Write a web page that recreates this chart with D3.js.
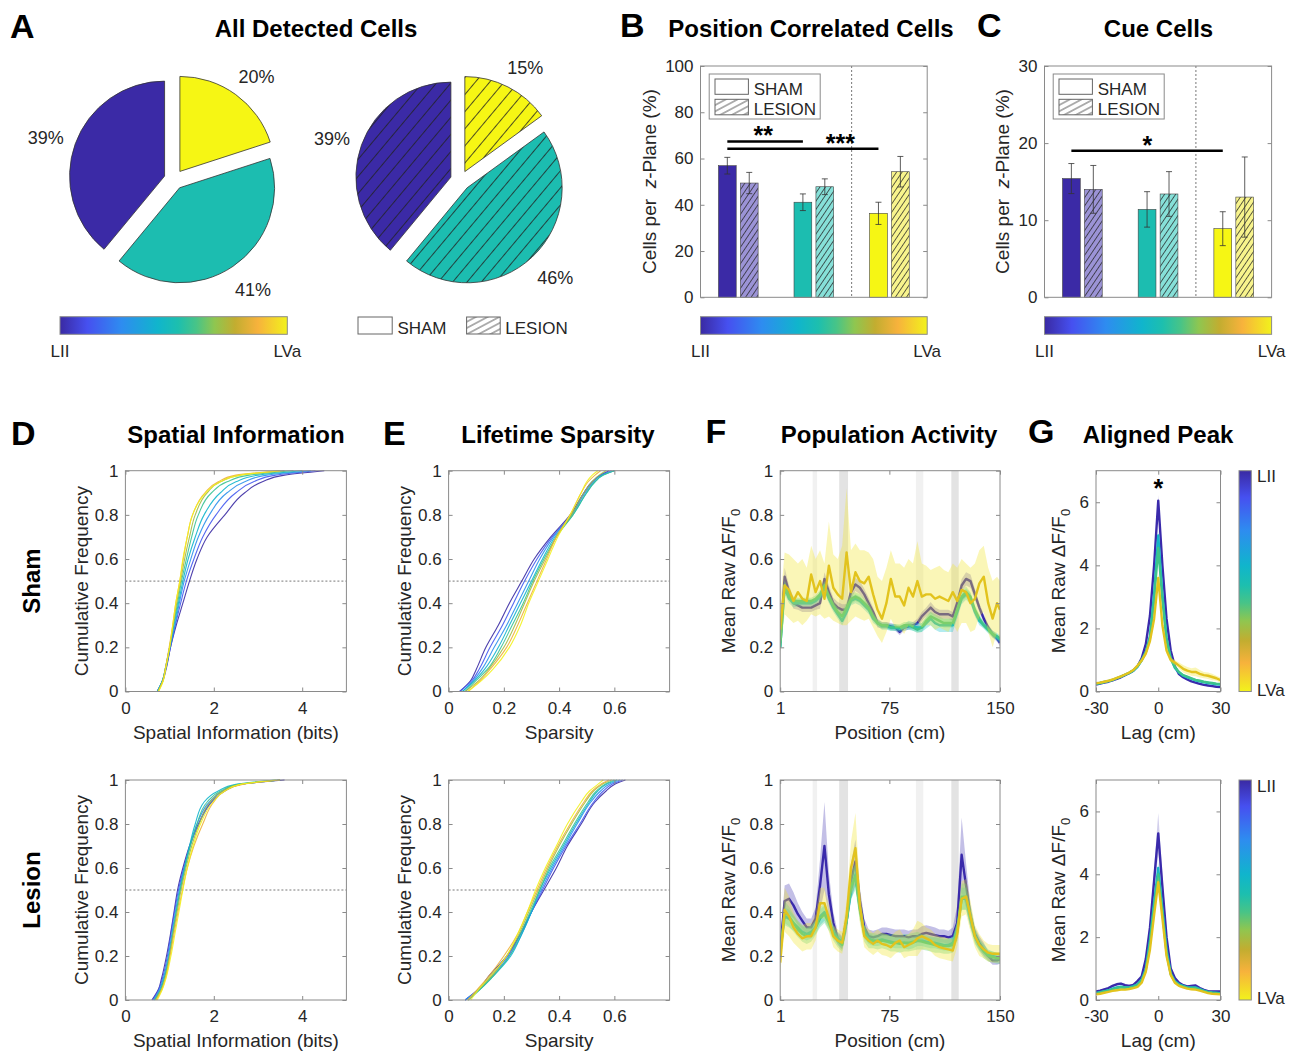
<!DOCTYPE html>
<html>
<head>
<meta charset="utf-8">
<script src="https://cdn.jsdelivr.net/npm/d3@7"></script>
<style>
  body { margin: 0; background: #fff; }
  svg text { font-family: "Liberation Sans", Arial, Helvetica, sans-serif; }
</style>
</head>
<body>
<svg id="fig" width="1297" height="1054"></svg>
<script>
// ---------------- data ----------------
// A: pie slices, clockwise from 12 o'clock: LVa, LIII, LII
const pieShamPct = [20, 41, 39];
const pieLesionPct = [15, 46, 39];

// B / C: bar groups (LII, LIII, LVa)
const barGroups = [1, 2, 3];
const bShamMean = [56.9, 41.1, 36.3];
const bShamErr = [3.6, 3.6, 4.8];
const bLesionMean = [49.4, 47.8, 54.3];
const bLesionErr = [4.6, 3.4, 6.6];
const bTicks = [0, 20, 40, 60, 80, 100];
const bSig = [
  { from: 1, to: 2, y: 67.4, label: "**", at: 1.33, dy: 2.7 },
  { from: 1, to: 3, y: 64.2, label: "***", at: 2.35, dy: 3.6 }
];
const cShamMean = [15.4, 11.4, 8.9];
const cShamErr = [1.95, 2.3, 2.2];
const cLesionMean = [14.0, 13.4, 13.0];
const cLesionErr = [3.1, 2.9, 5.2];
const cTicks = [0, 10, 20, 30];
const cSig = [{ from: 1, to: 3, y: 19.0, label: "*", at: 1.86, dy: 3 }];

// D / E: empirical CDFs given as x at fixed cumulative levels, LII -> LVa
const cdfLevels = [0, .05, .1, .2, .3, .4, .5, .6, .7, .8, .9, .95, .98, 1];
const dSham = [
  [.72, .85, .92, 1.02, 1.15, 1.30, 1.45, 1.62, 1.85, 2.25, 2.70, 3.10, 3.60, 4.50],
  [.72, .84, .91, 1.02, 1.13, 1.25, 1.38, 1.55, 1.75, 2.05, 2.50, 2.90, 3.40, 4.30],
  [.72, .84, .91, 1.01, 1.12, 1.22, 1.33, 1.48, 1.65, 1.90, 2.30, 2.70, 3.20, 4.20],
  [.72, .84, .90, 1.00, 1.10, 1.20, 1.30, 1.42, 1.58, 1.78, 2.15, 2.50, 3.00, 4.00],
  [.73, .84, .90, 1.00, 1.09, 1.18, 1.27, 1.38, 1.50, 1.65, 1.95, 2.30, 2.80, 3.80],
  [.74, .85, .90, 1.00, 1.08, 1.16, 1.25, 1.34, 1.45, 1.58, 1.85, 2.15, 2.60, 3.60],
  [.74, .85, .90, .99, 1.07, 1.14, 1.23, 1.31, 1.40, 1.52, 1.80, 2.10, 2.50, 3.50],
  [.75, .86, .91, 1.00, 1.07, 1.14, 1.23, 1.30, 1.40, 1.52, 1.82, 2.15, 2.60, 3.50]
];
const dLesion = [
  [.60, .75, .82, .93, 1.02, 1.10, 1.18, 1.30, 1.45, 1.65, 1.95, 2.25, 2.60, 3.60],
  [.62, .76, .84, .95, 1.03, 1.11, 1.20, 1.32, 1.46, 1.66, 1.95, 2.20, 2.60, 3.50],
  [.64, .78, .86, .97, 1.05, 1.13, 1.22, 1.33, 1.46, 1.62, 1.90, 2.20, 2.60, 3.50],
  [.66, .80, .88, .99, 1.07, 1.15, 1.24, 1.34, 1.45, 1.58, 1.78, 2.10, 2.50, 3.40],
  [.66, .80, .88, .99, 1.07, 1.15, 1.24, 1.35, 1.47, 1.62, 1.85, 2.15, 2.55, 3.50],
  [.68, .82, .90, 1.00, 1.08, 1.17, 1.26, 1.37, 1.50, 1.67, 1.92, 2.20, 2.60, 3.50],
  [.70, .83, .91, 1.01, 1.10, 1.19, 1.29, 1.40, 1.55, 1.75, 2.00, 2.25, 2.65, 3.50],
  [.72, .84, .92, 1.03, 1.12, 1.21, 1.30, 1.40, 1.53, 1.70, 1.98, 2.25, 2.60, 3.40]
];
const eSham = [
  [.04, .08, .10, .135, .18, .22, .265, .31, .37, .44, .49, .52, .55, .58],
  [.04, .085, .11, .15, .195, .235, .275, .32, .375, .445, .49, .52, .55, .59],
  [.05, .09, .12, .165, .21, .25, .29, .33, .38, .445, .495, .525, .555, .60],
  [.05, .095, .13, .18, .22, .26, .30, .34, .385, .45, .50, .53, .56, .60],
  [.06, .10, .14, .19, .23, .27, .305, .345, .39, .45, .50, .53, .56, .60],
  [.06, .11, .145, .20, .24, .275, .31, .35, .39, .445, .49, .52, .545, .57],
  [.07, .115, .15, .21, .25, .285, .32, .355, .39, .44, .48, .505, .53, .55],
  [.07, .12, .16, .22, .26, .29, .325, .36, .395, .44, .48, .50, .52, .54]
];
const eLesion = [
  [.06, .11, .14, .21, .26, .30, .345, .39, .43, .48, .53, .57, .60, .64],
  [.06, .11, .145, .215, .26, .30, .34, .38, .425, .475, .525, .56, .59, .63],
  [.06, .11, .15, .22, .265, .30, .335, .375, .42, .465, .515, .55, .58, .62],
  [.07, .115, .155, .225, .265, .30, .33, .37, .415, .46, .51, .54, .57, .61],
  [.07, .115, .155, .22, .26, .295, .33, .365, .41, .455, .505, .535, .565, .60],
  [.07, .11, .15, .21, .255, .29, .325, .36, .40, .445, .495, .525, .555, .59],
  [.07, .105, .14, .20, .25, .285, .32, .355, .395, .44, .49, .52, .55, .58],
  [.08, .11, .145, .21, .25, .285, .315, .35, .39, .43, .48, .51, .54, .56]
];

// F: population activity along the track (cm)
const fPos = [1, 4, 7, 10, 13, 16, 19, 22, 25, 28, 31, 34, 37, 40, 43, 46, 49, 52, 55, 58, 61, 64, 67, 70, 73,
  76, 79, 82, 85, 88, 91, 94, 97, 100, 103, 106, 109, 112, 115, 118, 121, 124, 127, 130, 133, 136, 139, 142, 145, 148, 150];
const cueZones = [[23, 26], [41, 47], [93, 98], [117, 122]];
const cueShade = ["#f1f1f1", "#e3e3e3", "#f1f1f1", "#e3e3e3"];

const fShamPurple = [.22, .52, .45, .40, .39, .38, .38, .38, .39, .40,
  .51, .45, .40, .38, .37, .37, .45, .485, .47, .44,
  .40, .36, .31, .30, .30, .295, .29, .27, .29, .295,
  .30, .31, .34, .36, .38, .36, .35, .35, .35, .34,
  .40, .48, .51, .50, .44, .38, .33, .29, .26, .24, .22];
const fShamPurpleSem = [.03, .04, .03, .025, .02, .02, .02, .02, .02, .025,
  .03, .03, .025, .025, .025, .025, .03, .03, .03, .025,
  .025, .02, .02, .015, .015, .015, .015, .015, .015, .015,
  .015, .02, .02, .02, .025, .02, .02, .02, .02, .02,
  .025, .03, .03, .03, .025, .02, .02, .015, .015, .015, .015];
const fShamTeal = [.20, .47, .42, .40, .40, .40, .40, .40, .41, .43,
  .47, .42, .38, .35, .32, .36, .41, .42, .41, .39,
  .37, .33, .31, .295, .295, .29, .29, .285, .29, .30,
  .295, .29, .29, .31, .33, .31, .30, .30, .30, .30,
  .36, .42, .44, .42, .36, .32, .30, .28, .26, .245, .235];
const fShamTealSem = [.02, .03, .02, .02, .015, .015, .015, .015, .015, .02,
  .025, .02, .02, .02, .02, .02, .02, .02, .02, .02,
  .02, .02, .015, .015, .015, .015, .015, .015, .015, .02,
  .02, .02, .02, .025, .03, .03, .03, .03, .03, .03,
  .03, .025, .025, .025, .02, .02, .015, .015, .015, .015, .015];
const fShamGreen = [.20, .48, .43, .41, .41, .41, .41, .41, .42, .44,
  .48, .43, .39, .36, .34, .38, .42, .43, .42, .40,
  .38, .34, .31, .30, .30, .29, .29, .29, .30, .30,
  .29, .28, .29, .32, .34, .33, .32, .31, .31, .31,
  .37, .43, .45, .43, .37, .33, .30, .28, .26, .25, .24];
const fShamGreenSem = [.02, .025, .02, .02, .015, .015, .015, .015, .015, .02,
  .02, .02, .02, .02, .025, .025, .025, .02, .02, .02,
  .02, .02, .015, .015, .015, .015, .015, .015, .015, .015,
  .015, .015, .02, .02, .02, .02, .02, .02, .02, .02,
  .025, .025, .025, .02, .02, .02, .015, .015, .015, .015, .015];
const fShamYellow = [.28, .48, .46, .41, .45, .42, .41, .53, .45, .50,
  .42, .57, .47, .44, .42, .63, .45, .54, .50, .49,
  .52, .44, .37, .33, .40, .51, .43, .43, .39, .47,
  .43, .50, .43, .44, .44, .42, .43, .42, .41, .45,
  .41, .46, .45, .40, .42, .49, .52, .40, .33, .40, .37];
const fShamYellowHi = [.40, .63, .62, .60, .58, .60, .56, .66, .60, .64,
  .58, .77, .62, .60, .66, .92, .64, .67, .64, .64,
  .63, .60, .52, .50, .56, .64, .58, .58, .56, .60,
  .58, .68, .58, .57, .55, .56, .57, .55, .54, .58,
  .56, .60, .58, .56, .58, .64, .66, .56, .50, .52, .50];
const fShamYellowLo = [.18, .35, .33, .31, .32, .30, .32, .35, .34, .35,
  .33, .34, .32, .31, .30, .30, .32, .34, .33, .32,
  .33, .29, .25, .22, .27, .33, .29, .29, .26, .30,
  .29, .32, .29, .30, .30, .28, .29, .28, .27, .31,
  .27, .31, .31, .27, .28, .34, .36, .27, .20, .27, .24];

const fLesPurple = [.23, .45, .46, .43, .39, .36, .33, .33, .37, .52,
  .70, .48, .35, .28, .26, .36, .54, .63, .45, .33,
  .29, .285, .29, .30, .30, .295, .29, .29, .29, .285,
  .29, .29, .30, .305, .30, .295, .29, .29, .285, .29,
  .35, .66, .52, .38, .30, .26, .23, .20, .18, .18, .185];
const fLesPurpleSem = [.03, .07, .07, .06, .05, .04, .04, .04, .05, .12,
  .20, .10, .05, .03, .03, .05, .08, .10, .06, .04,
  .03, .03, .03, .03, .03, .03, .03, .03, .03, .03,
  .03, .03, .035, .035, .035, .035, .03, .03, .03, .04,
  .08, .17, .10, .05, .03, .03, .03, .02, .02, .02, .02];
const fLesTeal = [.22, .38, .37, .35, .33, .31, .30, .31, .33, .38,
  .40, .36, .31, .28, .26, .36, .50, .57, .42, .31,
  .28, .27, .27, .275, .27, .265, .26, .26, .26, .255,
  .26, .27, .27, .265, .26, .26, .255, .25, .25, .26,
  .32, .46, .46, .37, .29, .25, .23, .21, .20, .195, .195];
const fLesTealSem = [.03, .04, .04, .035, .03, .03, .03, .03, .03, .04,
  .04, .035, .03, .025, .025, .04, .05, .05, .04, .03,
  .025, .025, .025, .025, .025, .025, .025, .025, .025, .025,
  .025, .025, .025, .025, .025, .025, .025, .025, .025, .03,
  .04, .05, .05, .04, .03, .025, .025, .02, .02, .02, .02];
const fLesGreen = [.20, .40, .38, .35, .32, .30, .29, .30, .33, .37,
  .39, .35, .30, .27, .25, .36, .52, .56, .41, .30,
  .27, .27, .265, .27, .265, .26, .26, .255, .26, .26,
  .265, .27, .265, .26, .255, .25, .25, .245, .245, .25,
  .31, .47, .47, .38, .29, .25, .22, .20, .195, .19, .19];
const fLesGreenSem = [.03, .05, .045, .04, .035, .035, .035, .035, .035, .04,
  .04, .035, .03, .03, .03, .04, .06, .06, .05, .035,
  .035, .035, .035, .035, .035, .04, .04, .04, .04, .04,
  .04, .04, .035, .035, .035, .035, .035, .035, .035, .035,
  .04, .06, .06, .05, .035, .03, .03, .025, .025, .025, .025];
const fLesYellow = [.17, .41, .38, .33, .30, .28, .29, .29, .33, .44,
  .44, .37, .29, .27, .26, .38, .60, .69, .43, .29,
  .27, .255, .27, .255, .25, .24, .26, .27, .24, .25,
  .26, .28, .29, .28, .27, .25, .24, .235, .23, .225,
  .30, .46, .47, .38, .29, .25, .23, .215, .21, .21, .21];
const fLesYellowSem = [.05, .10, .09, .07, .06, .06, .06, .06, .06, .07,
  .07, .06, .05, .05, .05, .07, .12, .16, .08, .05,
  .05, .05, .05, .05, .05, .05, .05, .05, .05, .05,
  .06, .08, .06, .05, .05, .05, .05, .05, .05, .05,
  .06, .08, .08, .07, .05, .05, .04, .04, .04, .04, .04];

// G: activity aligned to the peak (lag, cm)
const gLag = [-30, -28, -26, -24, -22, -20, -18, -16, -14, -12, -10, -8, -6, -4, -2, 0,
  2, 4, 6, 8, 10, 12, 14, 16, 18, 20, 22, 24, 26, 28, 30];
const gShamPurple = [.22, .25, .28, .31, .35, .40, .45, .52, .58, .66, .80, 1.05, 1.50, 2.40, 4.00, 6.05,
  4.00, 2.30, 1.30, .80, .55, .45, .38, .32, .28, .24, .21, .19, .17, .15, .14];
const gShamTeal = [.24, .27, .30, .33, .37, .42, .47, .53, .59, .66, .78, .98, 1.25, 1.75, 3.10, 4.95,
  3.10, 1.70, 1.05, .75, .60, .50, .45, .40, .35, .32, .29, .27, .25, .23, .22];
const gShamGreen = [.24, .27, .30, .33, .37, .42, .47, .53, .59, .67, .80, 1.00, 1.25, 1.70, 2.90, 4.55,
  2.90, 1.65, 1.05, .78, .62, .52, .47, .42, .37, .34, .31, .29, .27, .25, .24];
const gShamYellow = [.26, .28, .31, .34, .38, .43, .48, .54, .60, .68, .82, .98, 1.20, 1.60, 2.30, 3.60,
  2.10, 1.30, 1.00, .92, .82, .72, .66, .62, .62, .56, .52, .50, .46, .42, .36];
const gShamPurpleSem = [.02, .02, .02, .02, .02, .02, .02, .03, .03, .03, .04, .05, .08, .12, .15, .18,
  .15, .12, .08, .05, .04, .03, .03, .02, .02, .02, .02, .02, .02, .02, .02];
const gShamYellowSem = [.03, .03, .03, .03, .03, .03, .03, .03, .03, .04, .05, .06, .08, .10, .12, .15,
  .12, .10, .08, .08, .10, .12, .12, .12, .14, .12, .10, .10, .10, .08, .08];
const gLesPurple = [.27, .30, .34, .38, .45, .50, .52, .47, .45, .48, .60, .75, 1.30, 2.30, 3.80, 5.30,
  3.60, 2.00, 1.00, .70, .55, .47, .43, .45, .46, .38, .32, .28, .27, .27, .27];
const gLesTeal = [.22, .25, .28, .31, .36, .40, .42, .40, .40, .44, .50, .65, 1.00, 1.90, 3.10, 4.20,
  2.90, 1.60, .85, .60, .50, .45, .40, .40, .40, .35, .30, .26, .24, .23, .22];
const gLesGreen = [.21, .24, .27, .30, .34, .38, .40, .39, .39, .42, .48, .62, .95, 1.80, 3.00, 4.00,
  2.80, 1.50, .82, .58, .48, .43, .39, .38, .38, .33, .28, .25, .23, .22, .21];
const gLesYellow = [.18, .20, .23, .26, .29, .31, .33, .33, .35, .38, .42, .55, .90, 1.60, 2.70, 3.75,
  2.60, 1.40, .80, .55, .45, .40, .36, .34, .33, .30, .26, .22, .20, .19, .18];
const gLesPurpleSem = [.03, .03, .03, .03, .04, .04, .04, .04, .04, .04, .05, .06, .10, .20, .40, .65,
  .40, .20, .10, .06, .05, .04, .04, .04, .04, .04, .03, .03, .03, .03, .03];
const gLesMidSem = [.02, .02, .02, .02, .03, .03, .03, .03, .03, .03, .04, .05, .08, .12, .15, .18,
  .15, .12, .08, .05, .04, .03, .03, .03, .03, .03, .02, .02, .02, .02, .02];

// ---------------- styling ----------------
const INK = "#262626", BOX = "#8a8a8a";
const rampStops = [0, .12, .27, .43, .52, .60, .68, .77, .87, 1];
const rampColors = ["#3a2aa3", "#4650f0", "#2e8cf0", "#10b5cc", "#1dbfae", "#48c487", "#8fc650", "#c2ad30", "#f7b23c", "#f2f21c"];
const ramp = d3.scaleLinear().domain(rampStops).range(rampColors);
const layerFill = ["#3b2aa6", "#1cbdb0", "#f6f614"];       // LII, LIII, LVa
const layerLight = ["#9b93d6", "#86e0d8", "#f8f48c"];
const lineCol = { purple: "#3a2aab", teal: "#14b5c6", green: "#3ec48a", yellow: "#e2c31d" };

const svg = d3.select("#fig");
const defs = svg.append("defs");

function gradient(id, vertical) {
  const gr = defs.append("linearGradient").attr("id", id)
    .attr("x1", 0).attr("y1", 0).attr("x2", vertical ? 0 : 1).attr("y2", vertical ? 1 : 0);
  rampStops.forEach((s, i) => gr.append("stop").attr("offset", s).attr("stop-color", rampColors[i]));
}
gradient("rampH", false);
gradient("rampV", true);

function hatch(id, bg, angle, gap, width) {
  const p = defs.append("pattern").attr("id", id).attr("patternUnits", "userSpaceOnUse")
    .attr("width", gap).attr("height", gap).attr("patternTransform", `rotate(${angle})`);
  p.append("rect").attr("width", gap).attr("height", gap).attr("fill", bg);
  p.append("line").attr("x1", gap / 2).attr("x2", gap / 2).attr("y1", -1).attr("y2", gap + 1)
    .attr("stroke", "#222").attr("stroke-width", width);
}
layerFill.forEach((c, i) => hatch("pieHatch" + i, c, 40, 11, 0.8));
layerLight.forEach((c, i) => hatch("barHatch" + i, c, 34, 4.6, 0.7));
hatch("legHatch", "#fff", 62, 5.5, 0.7);

function txt(x, y, s, size, o = {}) {
  return svg.append("text").attr("x", x).attr("y", y).attr("font-size", size)
    .attr("font-weight", o.bold ? "bold" : null).attr("text-anchor", o.anchor || "start")
    .attr("fill", o.color || INK).text(s);
}
function vtxt(x, y, s, size, o = {}) {
  return svg.append("text").attr("transform", `translate(${x},${y}) rotate(-90)`)
    .attr("font-size", size).attr("font-weight", o.bold ? "bold" : null)
    .attr("text-anchor", "middle").attr("fill", o.color || INK).text(s);
}

function frame(ax, x, y, xt, yt) {
  const g = svg.append("g");
  const style = sel => {
    sel.select(".domain").remove();
    sel.selectAll("line").attr("stroke", BOX);
    sel.selectAll("text").attr("fill", INK).attr("font-size", 17);
  };
  if (xt) {
    g.append("g").attr("transform", `translate(0,${ax.b})`)
      .call(d3.axisBottom(x).tickValues(xt).tickSize(-4).tickPadding(10).tickFormat(d => d)).call(style);
    g.append("g").attr("transform", `translate(0,${ax.t})`)
      .call(d3.axisTop(x).tickValues(xt).tickSize(-4).tickFormat("")).call(style);
  }
  g.append("g").attr("transform", `translate(${ax.l},0)`)
    .call(d3.axisLeft(y).tickValues(yt).tickSize(-4).tickPadding(7).tickFormat(d => d)).call(style);
  g.append("g").attr("transform", `translate(${ax.r},0)`)
    .call(d3.axisRight(y).tickValues(yt).tickSize(-4).tickFormat("")).call(style);
  g.append("rect").attr("x", ax.l).attr("y", ax.t).attr("width", ax.r - ax.l).attr("height", ax.b - ax.t)
    .attr("fill", "none").attr("stroke", BOX).attr("stroke-width", 1);
}

function hColorbar(l, r, labelY) {
  svg.append("rect").attr("x", l).attr("y", 316.7).attr("width", r - l).attr("height", 17.6)
    .attr("fill", "url(#rampH)").attr("stroke", BOX).attr("stroke-width", 1);
  txt(l, labelY, "LII", 17, { anchor: "middle" });
  txt(r, labelY, "LVa", 17, { anchor: "middle" });
}

// ---------------- A: pies ----------------
const pieR = 95, pieExplode = 10, pieLabelR = 130;
function drawPie(cx, cy, pcts, fills) {
  const slices = d3.pie().sort(null)(pcts);
  const arc = d3.arc().innerRadius(0).outerRadius(pieR);
  slices.forEach((a, i) => {
    const mid = (a.startAngle + a.endAngle) / 2;
    const dx = Math.sin(mid), dy = -Math.cos(mid);
    svg.append("path").attr("transform", `translate(${cx + pieExplode * dx},${cy + pieExplode * dy})`)
      .attr("d", arc(a)).attr("fill", fills[i]).attr("stroke", "#333").attr("stroke-width", 0.8);
    txt(cx + pieLabelR * dx + 6 * Math.sign(dx), cy + pieLabelR * dy + 3, pcts[i] + "%", 18, { anchor: "middle" })
      .attr("dominant-baseline", "central");
  });
}
drawPie(174, 179.5, pieShamPct, [layerFill[2], layerFill[1], layerFill[0]]);
drawPie(460.3, 180.5, pieLesionPct, ["url(#pieHatch2)", "url(#pieHatch1)", "url(#pieHatch0)"]);
txt(10, 38.3, "A", 34, { bold: true, color: "#000" });
txt(316, 36.5, "All Detected Cells", 24, { bold: true, anchor: "middle", color: "#000" });
hColorbar(60, 287.3, 356.7);
svg.append("rect").attr("x", 358).attr("y", 317).attr("width", 34.2).attr("height", 17)
  .attr("fill", "#fff").attr("stroke", "#666");
txt(397.4, 333.5, "SHAM", 17);
svg.append("rect").attr("x", 466.6).attr("y", 317).attr("width", 33.6).attr("height", 17)
  .attr("fill", "url(#legHatch)").attr("stroke", "#666");
txt(505.3, 333.5, "LESION", 17);

// ---------------- B / C: bars ----------------
function drawBars(ax, shamM, shamE, lesM, lesE, yMax, yTicks, sig) {
  const x = d3.scaleLinear().domain([0.5, 3.5]).range([ax.l, ax.r]);
  const y = d3.scaleLinear().domain([0, yMax]).range([ax.b, ax.t]);
  const off = 0.145, bw = 0.235;
  svg.append("line").attr("x1", x(2.5)).attr("x2", x(2.5)).attr("y1", ax.t).attr("y2", ax.b)
    .attr("stroke", "#555").attr("stroke-width", 0.8).attr("stroke-dasharray", "2,2");
  const sets = [
    { m: shamM, e: shamE, dx: -off, fill: i => layerFill[i] },
    { m: lesM, e: lesE, dx: off, fill: i => `url(#barHatch${i})` }
  ];
  sets.forEach(s => {
    barGroups.forEach((gv, i) => {
      const c = gv + s.dx;
      svg.append("rect").attr("x", x(c - bw / 2)).attr("y", y(s.m[i]))
        .attr("width", x(c + bw / 2) - x(c - bw / 2)).attr("height", y(0) - y(s.m[i]))
        .attr("fill", s.fill(i)).attr("stroke", "#444").attr("stroke-width", 0.6);
      const lo = y(s.m[i] - s.e[i]), hi = y(s.m[i] + s.e[i]);
      svg.append("path").attr("d", `M${x(c)},${lo}V${hi}M${x(c) - 3},${lo}H${x(c) + 3}M${x(c) - 3},${hi}H${x(c) + 3}`)
        .attr("stroke", "#333").attr("stroke-width", 0.8).attr("fill", "none");
    });
  });
  sig.forEach(s => {
    svg.append("line").attr("x1", x(s.from - off)).attr("x2", x(s.to - off)).attr("y1", y(s.y)).attr("y2", y(s.y))
      .attr("stroke", "#000").attr("stroke-width", 2.5);
    txt(x(s.at), y(s.y) + s.dy, s.label, 25, { bold: true, anchor: "middle", color: "#000" });
  });
  frame(ax, x, y, null, yTicks);
  // legend
  const lg = svg.append("g").attr("transform", `translate(${ax.l + 8.7},${ax.t + 8})`);
  lg.append("rect").attr("width", 111).attr("height", 45).attr("fill", "#fff").attr("stroke", BOX);
  lg.append("rect").attr("x", 5.8).attr("y", 5).attr("width", 33.4).attr("height", 15.3)
    .attr("fill", "#fff").attr("stroke", "#666");
  lg.append("rect").attr("x", 5.8).attr("y", 25.3).attr("width", 33.4).attr("height", 15.5)
    .attr("fill", "url(#legHatch)").attr("stroke", "#666");
  lg.append("text").attr("x", 44.5).attr("y", 20.5).attr("font-size", 17).attr("fill", INK).text("SHAM");
  lg.append("text").attr("x", 44.5).attr("y", 41).attr("font-size", 17).attr("fill", INK).text("LESION");
  hColorbar(ax.l, ax.r, 356.7);
}
function cellsLabel(xb, yc) {
  const t = svg.append("text").attr("transform", `translate(${xb},${yc}) rotate(-90)`)
    .attr("font-size", 19).attr("text-anchor", "middle").attr("fill", INK);
  t.append("tspan").text("Cells per\u00a0\u00a0");
  t.append("tspan").attr("font-style", "italic").text("z");
  t.append("tspan").text("-Plane (%)");
}
const axB = { l: 700.5, r: 927.2, t: 66, b: 297.3 };
const axC = { l: 1044.5, r: 1271.6, t: 66, b: 297.3 };
drawBars(axB, bShamMean, bShamErr, bLesionMean, bLesionErr, 100, bTicks, bSig);
drawBars(axC, cShamMean, cShamErr, cLesionMean, cLesionErr, 30, cTicks, cSig);
cellsLabel(656, 181.5);
cellsLabel(1009, 181.5);
txt(620, 37, "B", 34, { bold: true, color: "#000" });
txt(811, 36.5, "Position Correlated Cells", 24, { bold: true, anchor: "middle", color: "#000" });
txt(977, 37, "C", 34, { bold: true, color: "#000" });
txt(1158.5, 36.5, "Cue Cells", 24, { bold: true, anchor: "middle", color: "#000" });

// ---------------- D / E: cumulative distributions ----------------
function drawCdf(ax, curves, xMax, xTicks, xLabel, yLabX) {
  const x = d3.scaleLinear().domain([0, xMax]).range([ax.l, ax.r]);
  const y = d3.scaleLinear().domain([0, 1]).range([ax.b, ax.t]);
  svg.append("line").attr("x1", ax.l).attr("x2", ax.r).attr("y1", y(0.5)).attr("y2", y(0.5))
    .attr("stroke", "#555").attr("stroke-width", 0.8).attr("stroke-dasharray", "2,2");
  const line = d3.line().x(d => x(d[0])).y(d => y(d[1])).curve(d3.curveMonotoneY);
  curves.forEach((c, i) => {
    svg.append("path").datum(c.map((v, k) => [v, cdfLevels[k]])).attr("d", line)
      .attr("fill", "none").attr("stroke", ramp(i / (curves.length - 1))).attr("stroke-width", 1.1)
      .attr("stroke-opacity", 0.9);
  });
  frame(ax, x, y, xTicks, [0, 0.2, 0.4, 0.6, 0.8, 1]);
  txt((ax.l + ax.r) / 2, ax.b + 47, xLabel, 19, { anchor: "middle" });
  vtxt(yLabX, (ax.t + ax.b) / 2, "Cumulative Frequency", 19);
}
const rowTop = { t: 470.7, b: 691.5 }, rowBot = { t: 780, b: 1000 };
const colD = { l: 125.4, r: 346.4 }, colE = { l: 448.6, r: 669.6 };
drawCdf({ ...colD, ...rowTop }, dSham, 5, [0, 2, 4], "Spatial Information (bits)", 88);
drawCdf({ ...colD, ...rowBot }, dLesion, 5, [0, 2, 4], "Spatial Information (bits)", 88);
drawCdf({ ...colE, ...rowTop }, eSham, 0.8, [0, 0.2, 0.4, 0.6], "Sparsity", 410.5);
drawCdf({ ...colE, ...rowBot }, eLesion, 0.8, [0, 0.2, 0.4, 0.6], "Sparsity", 410.5);
txt(11, 445, "D", 34, { bold: true, color: "#000" });
txt(236, 443, "Spatial Information", 24, { bold: true, anchor: "middle", color: "#000" });
txt(383, 445, "E", 34, { bold: true, color: "#000" });
txt(558, 443, "Lifetime Sparsity", 24, { bold: true, anchor: "middle", color: "#000" });
vtxt(40, 581, "Sham", 24, { bold: true, color: "#000" });
vtxt(40, 890, "Lesion", 24, { bold: true, color: "#000" });

// ---------------- F / G: traces with shaded error ----------------
let clipN = 0;
function drawTraces(ax, xs, series, xDom, xTicks, yMax, yTicks, zones) {
  const x = d3.scaleLinear().domain(xDom).range([ax.l, ax.r]);
  const y = d3.scaleLinear().domain([0, yMax]).range([ax.b, ax.t]);
  const id = "clip" + (clipN++);
  defs.append("clipPath").attr("id", id).append("rect")
    .attr("x", ax.l).attr("y", ax.t).attr("width", ax.r - ax.l).attr("height", ax.b - ax.t);
  const g = svg.append("g").attr("clip-path", `url(#${id})`);
  if (zones) zones.forEach((z, i) => {
    g.append("rect").attr("x", x(z[0])).attr("width", x(z[1]) - x(z[0])).attr("y", ax.t).attr("height", ax.b - ax.t)
      .attr("fill", cueShade[i]);
  });
  series.forEach(s => {
    const lo = s.lo || s.mean.map((v, i) => v - s.sem[i]);
    const hi = s.hi || s.mean.map((v, i) => v + s.sem[i]);
    g.append("path").datum(s.mean)
      .attr("d", d3.area().x((d, i) => x(xs[i])).y0((d, i) => y(lo[i])).y1((d, i) => y(hi[i])))
      .attr("fill", s.band).attr("fill-opacity", s.alpha);
    g.append("path").datum(s.mean)
      .attr("d", d3.line().x((d, i) => x(xs[i])).y(d => y(d)))
      .attr("fill", "none").attr("stroke", s.color).attr("stroke-width", 2.4).attr("stroke-linejoin", "round");
  });
  frame(ax, x, y, xTicks, yTicks);
  return { x, y };
}
function dffLabel(xb, yc) {
  const t = svg.append("text").attr("transform", `translate(${xb},${yc}) rotate(-90)`)
    .attr("font-size", 19).attr("text-anchor", "middle").attr("fill", INK);
  t.append("tspan").text("Mean Raw \u0394F/F");
  t.append("tspan").attr("font-size", 13).attr("dy", 5).text("0");
}
const colF = { l: 780.2, r: 1000 }, colG = { l: 1096, r: 1220.5 };
const fTicksY = [0, 0.2, 0.4, 0.6, 0.8, 1];
drawTraces({ ...colF, ...rowTop }, fPos, [
  { mean: fShamPurple, sem: fShamPurpleSem, color: lineCol.purple, band: "#6a5fc0", alpha: 0.35 },
  { mean: fShamTeal, sem: fShamTealSem, color: lineCol.teal, band: "#22c6d0", alpha: 0.35 },
  { mean: fShamGreen, sem: fShamGreenSem, color: lineCol.green, band: "#4cd08c", alpha: 0.35 },
  { mean: fShamYellow, lo: fShamYellowLo, hi: fShamYellowHi, color: lineCol.yellow, band: "#f2e630", alpha: 0.35 }
], [1, 150], [1, 75, 150], 1, fTicksY, cueZones);
drawTraces({ ...colF, ...rowBot }, fPos, [
  { mean: fLesPurple, sem: fLesPurpleSem, color: lineCol.purple, band: "#6a5fc0", alpha: 0.4 },
  { mean: fLesTeal, sem: fLesTealSem, color: lineCol.teal, band: "#22c6d0", alpha: 0.35 },
  { mean: fLesGreen, sem: fLesGreenSem, color: lineCol.green, band: "#4cd08c", alpha: 0.35 },
  { mean: fLesYellow, sem: fLesYellowSem, color: lineCol.yellow, band: "#f2e630", alpha: 0.35 }
], [1, 150], [1, 75, 150], 1, fTicksY, cueZones);
[rowTop, rowBot].forEach(r => {
  txt(890, r.b + 47, "Position (cm)", 19, { anchor: "middle" });
  dffLabel(734.5, (r.t + r.b) / 2);
});
txt(705.5, 443, "F", 34, { bold: true, color: "#000" });
txt(889, 443, "Population Activity", 24, { bold: true, anchor: "middle", color: "#000" });

const gTop = drawTraces({ ...colG, ...rowTop }, gLag, [
  { mean: gShamPurple, sem: gShamPurpleSem, color: lineCol.purple, band: "#6a5fc0", alpha: 0.3 },
  { mean: gShamTeal, sem: gLesMidSem, color: lineCol.teal, band: "#22c6d0", alpha: 0.3 },
  { mean: gShamGreen, sem: gLesMidSem, color: lineCol.green, band: "#4cd08c", alpha: 0.3 },
  { mean: gShamYellow, sem: gShamYellowSem, color: lineCol.yellow, band: "#f2e630", alpha: 0.35 }
], [-30, 30], [-30, 0, 30], 7, [0, 2, 4, 6], null);
drawTraces({ ...colG, ...rowBot }, gLag, [
  { mean: gLesPurple, sem: gLesPurpleSem, color: lineCol.purple, band: "#6a5fc0", alpha: 0.3 },
  { mean: gLesTeal, sem: gLesMidSem, color: lineCol.teal, band: "#22c6d0", alpha: 0.3 },
  { mean: gLesGreen, sem: gLesMidSem, color: lineCol.green, band: "#4cd08c", alpha: 0.3 },
  { mean: gLesYellow, sem: gLesMidSem, color: lineCol.yellow, band: "#f2e630", alpha: 0.35 }
], [-30, 30], [-30, 0, 30], 7, [0, 2, 4, 6], null);
txt(gTop.x(0), gTop.y(gShamPurple[15]) - 3.5, "*", 25, { bold: true, anchor: "middle", color: "#000" });
[rowTop, rowBot].forEach(r => {
  txt(1158.3, r.b + 47, "Lag (cm)", 19, { anchor: "middle" });
  dffLabel(1064.5, (r.t + r.b) / 2);
  svg.append("rect").attr("x", 1239).attr("y", r.t).attr("width", 12.3).attr("height", r.b - r.t)
    .attr("fill", "url(#rampV)").attr("stroke", BOX).attr("stroke-width", 1);
  txt(1257, r.t + 11.5, "LII", 17);
  txt(1257, r.b + 4, "LVa", 17);
});
txt(1028, 443, "G", 34, { bold: true, color: "#000" });
txt(1158, 443, "Aligned Peak", 24, { bold: true, anchor: "middle", color: "#000" });
</script>
</body>
</html>
